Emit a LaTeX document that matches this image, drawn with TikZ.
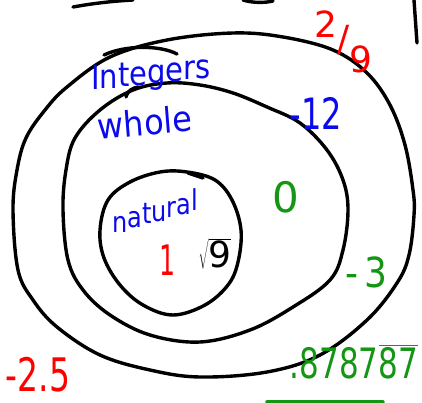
\documentclass[tikz,border=0pt]{standalone}
\usepackage{fontspec}
\setmainfont{DejaVu Sans}
\definecolor{penblue}{RGB}{10,10,235}
\definecolor{penred}{RGB}{255,0,0}
\definecolor{pengreen}{RGB}{20,150,20}
\begin{document}
\begin{tikzpicture}[x=1pt,y=-1pt,
  ring/.style={line width=3.4pt,line cap=round,line join=round},
  penstroke/.style={line width=3.4pt,line cap=round},
  lbl/.style={inner sep=0pt,anchor=center},
  bluetxt/.style={lbl,text=penblue},
  redtxt/.style={lbl,text=penred},
  greentxt/.style={lbl,text=pengreen},
  natletter/.style={inner sep=0pt,anchor=base west,text=penblue,font=\fontsize{24}{24}\selectfont,yscale=1.2},
  intletter/.style={inner sep=0pt,anchor=base west,text=penblue,font=\fontsize{29}{29}\selectfont,yscale=1.15}]
\useasboundingbox (0,0) rectangle (422,403);
% outer ring (integers)
\draw[ring] plot[smooth cycle,tension=0.6] coordinates {(233,33) (283,37) (333,50) (367,73) (390,105) (405,145) (413,190) (414,215) (409,255) (397,283) (367,320) (320,355) (267,372) (200,377) (150,370) (100,355) (57,327) (33,300) (18,270) (13,210) (17,170) (26,138) (45,110) (67,87) (110,57) (167,40)};
% middle ring (whole)
\draw[ring] plot[smooth cycle,tension=0.6] coordinates {(167,83) (200,85) (233,93) (267,107) (300,123) (327,150) (343,180) (348,210) (343,250) (330,280) (293,307) (250,330) (200,342) (150,335) (110,315) (83,290) (68,260) (63,210) (66,170) (75,138) (100,110) (133,90)};
% inner ring (natural)
\draw[ring] plot[smooth cycle,tension=0.6] coordinates {(187,172) (215,180) (232,200) (241,230) (238,262) (228,285) (205,305) (173,315) (143,305) (120,285) (104,258) (100,230) (108,200) (130,182) (160,172)};
% extra pen strokes
\draw[penstroke] (104,55) .. controls (125,45) and (160,45) .. (177,54);
\draw[penstroke] (126,97) .. controls (128,90) and (133,88) .. (138,87);
\draw[penstroke] (188,173) -- (203,178);
\draw[penstroke] (73,7) .. controls (95,3) and (115,1) .. (133,0);
\draw[penstroke] (243,0) .. controls (252,3) and (265,3) .. (273,1);
\draw[penstroke] (414,0) -- (417,43);
\draw[penstroke,pengreen] (267,402) -- (383,402);
% "Integers" written on a rising baseline
\node[intletter] (int1) at (91,90) {I};
\node[intletter] (int2) at (99.6,89.0) {n};
\node[intletter] (int3) at (118.0,86.9) {t};
\node[intletter] (int4) at (129.4,85.6) {e};
\node[intletter] (int5) at (147.2,83.6) {g};
\node[intletter] (int6) at (165.6,81.6) {e};
\node[intletter] (int7) at (183.5,79.5) {r};
\node[intletter] (int8) at (195.4,78.2) {s};
\node[bluetxt,font=\fontsize{32}{32}\selectfont,yscale=1.1,rotate=5] (whole) at (145,122) {whole};
% "natural" written on a rising baseline
\node[natletter] (nat1) at (112,232) {n};
\node[natletter] (nat2) at (127.2,227.9) {a};
\node[natletter] (nat3) at (141.9,223.9) {t};
\node[natletter] (nat4) at (151.3,221.4) {u};
\node[natletter] (nat5) at (166.5,217.3) {r};
\node[natletter] (nat6) at (176.4,214.6) {a};
\node[natletter] (nat7) at (191.1,210.7) {l};
\node[bluetxt,font=\fontsize{32}{32}\selectfont,yscale=1.35] (m12) at (316,113) {-12};
\node[inner sep=0pt,anchor=base west,text=penred,font=\fontsize{36}{36}\selectfont] (twoninths) at (314,52) {\raisebox{14pt}{2}/\raisebox{-21pt}{9}};
\node[greentxt,font=\fontsize{42}{42}\selectfont] (zero) at (286,197) {0};
\node[redtxt,font=\fontsize{42}{42}\selectfont,xscale=0.6] (one) at (168,260) {1};
\node[lbl,font=\fontsize{36}{36}\selectfont] (root9) at (215,254) {$\sqrt{\hbox{9}}$};
\node[greentxt,font=\fontsize{36}{36}\selectfont,yscale=1.15] (m3) at (366,272) {-\,3};
\node[redtxt,font=\fontsize{33}{33}\selectfont,yscale=1.4] (m25) at (38,375) {-2.5};
\node[greentxt,font=\fontsize{31}{31}\selectfont,yscale=1.35] (rep) at (354,362) {.8787$\overline{\hbox{87}}$};
\end{tikzpicture}
\end{document}
